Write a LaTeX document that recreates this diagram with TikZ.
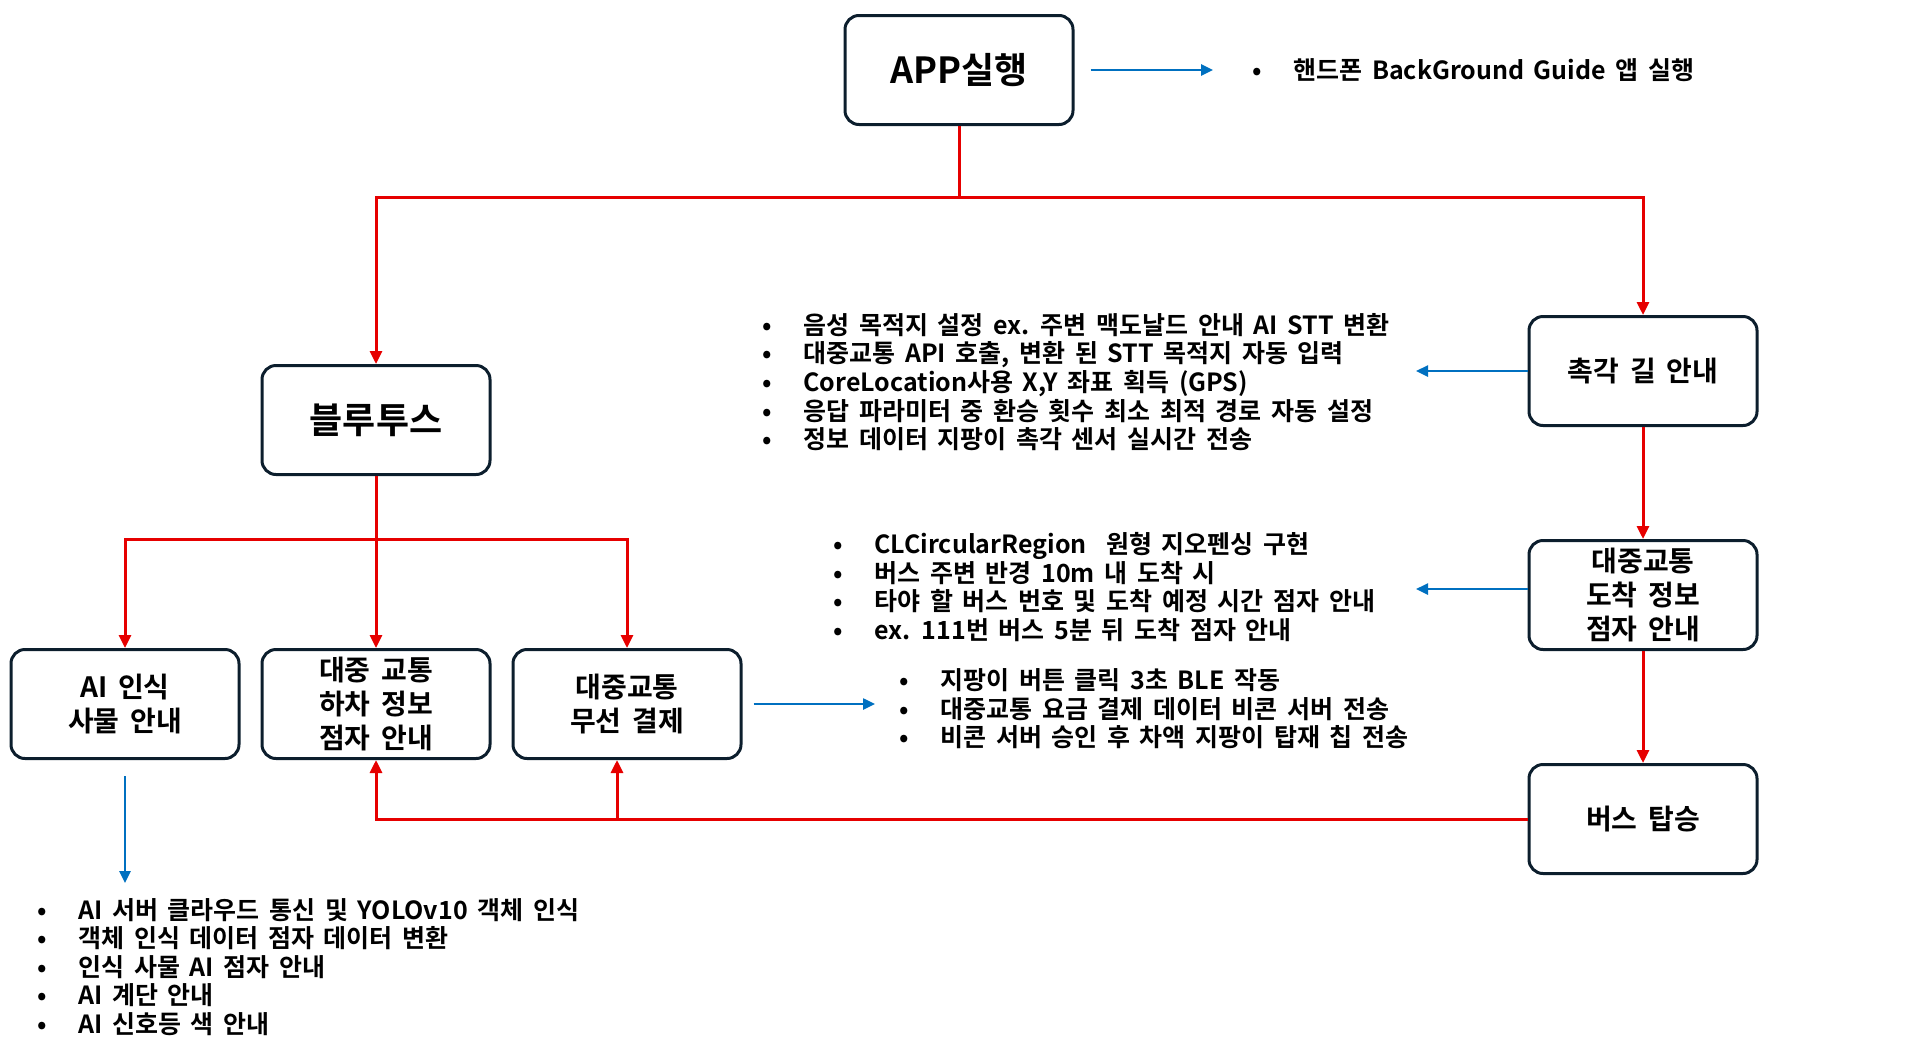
\documentclass[tikz,border=0pt]{standalone}
\usepackage{fontspec}
\setmainfont{Noto Sans CJK KR}[BoldFont={Noto Sans CJK KR Bold},WordSpace=1.7]
\usetikzlibrary{arrows.meta}
\definecolor{boxline}{RGB}{12,30,45}
\definecolor{flowred}{RGB}{230,0,0}
\definecolor{noteblue}{RGB}{0,112,192}
\newcommand{\bul}{\makebox[20.5pt][l]{\textbullet}}

\begin{document}
\begin{tikzpicture}[x=0.5pt,y=-0.5pt]
  \tikzstyle{box}=[draw=boxline,line width=1.5pt,rounded corners=7pt,minimum width=114pt,minimum height=54.5pt,align=center,font=\fontsize{14}{16.8}\selectfont\bfseries]
  \tikzstyle{big}=[box,font=\fontsize{18}{21}\selectfont\bfseries]
  \tikzstyle{list}=[anchor=west,align=left,inner sep=0pt,font=\fontsize{12.5}{14.3}\selectfont\bfseries]
  \tikzstyle{wire}=[draw=flowred,line width=1.5pt]
  \tikzstyle{flow}=[wire,-{Triangle[length=6.5pt,width=6pt]}]
  \tikzstyle{note}=[draw=noteblue,line width=1.25pt,-{Triangle[length=6pt,width=5.5pt]}]
  \useasboundingbox (0,0) rectangle (1917,1045);
  % steps
  \node[big] (app) at (959,70) {APP실행};
  \node[big] (ble) at (376,420) {블루투스};
  \node[box] (walk) at (1643,371) {촉각 길 안내};
  \node[box] (arrive) at (1643,595) {대중교통\\도착 정보\\점자 안내};
  \node[box] (board) at (1643,819) {버스 탑승};
  \node[box] (ai) at (125,704) {AI 인식\\사물 안내};
  \node[box] (alight) at (376,704) {대중 교통\\하차 정보\\점자 안내};
  \node[box] (pay) at (627,704) {대중교통\\무선 결제};
  % notes
  \node[list] (applist) at (1252,70) {\bul 핸드폰 BackGround Guide 앱 실행};
  \node[list] (walklist) at (762,382) {\bul 음성 목적지 설정 ex. 주변 맥도날드 안내 AI STT 변환\\
    \bul 대중교통 API 호출, 변환 된 STT 목적지 자동 입력\\
    \bul CoreLocation사용 X,Y 좌표 획득 (GPS)\\
    \bul 응답 파라미터 중 환승 횟수 최소 최적 경로 자동 설정\\
    \bul 정보 데이터 지팡이 촉각 센서 실시간 전송};
  \node[list] (arrivelist) at (833,587) {\bul CLCircularRegion\ \ 원형 지오펜싱 구현\\
    \bul 버스 주변 반경 10m 내 도착 시\\
    \bul 타야 할 버스 번호 및 도착 예정 시간 점자 안내\\
    \bul ex. 111번 버스 5분 뒤 도착 점자 안내};
  \node[list] (paylist) at (899,709) {\bul 지팡이 버튼 클릭 3초 BLE 작동\\
    \bul 대중교통 요금 결제 데이터 비콘 서버 전송\\
    \bul 비콘 서버 승인 후 차액 지팡이 탑재 칩 전송};
  \node[list] (ailist) at (37,967) {\bul AI 서버 클라우드 통신 및 YOLOv10 객체 인식\\
    \bul 객체 인식 데이터 점자 데이터 변환\\
    \bul 인식 사물 AI 점자 안내\\
    \bul AI 계단 안내\\
    \bul AI 신호등 색 안내};
  % red flow
  \coordinate (split) at (959,197);
  \coordinate (bsplit) at (376,539);
  \coordinate (payjoin) at (617,819);
  \draw[wire] (app.south) -- (split);
  \draw[flow] (split) -| (ble.north);
  \draw[flow] (split) -| (walk.north);
  \draw[wire] (ble.south) -- (bsplit);
  \draw[flow] (bsplit) -| (ai.north);
  \draw[flow] (bsplit) -- (alight.north);
  \draw[flow] (bsplit) -| (pay.north);
  \draw[flow] (walk.south) -- (arrive.north);
  \draw[flow] (arrive.south) -- (board.north);
  \draw[flow] (board.west) -| (alight.south);
  \draw[flow] (payjoin) -- (payjoin |- pay.south);
  % blue notes
  \coordinate (walkto) at (1416,371);
  \coordinate (arriveto) at (1416,589);
  \coordinate (payto) at (875,704);
  \coordinate (aito) at (125,883);
  \draw[note,shorten <=8pt,shorten >=19.5pt] (app.east) -- (app.east -| applist.west);
  \draw[note] (walk.west) -- (walkto);
  \draw[note] ([yshift=3pt]arrive.west) -- (arriveto);
  \draw[note,shorten <=5.5pt] (pay.east) -- (payto);
  \draw[note,shorten <=8pt] (ai.south) -- (aito);
\end{tikzpicture}
\end{document}
